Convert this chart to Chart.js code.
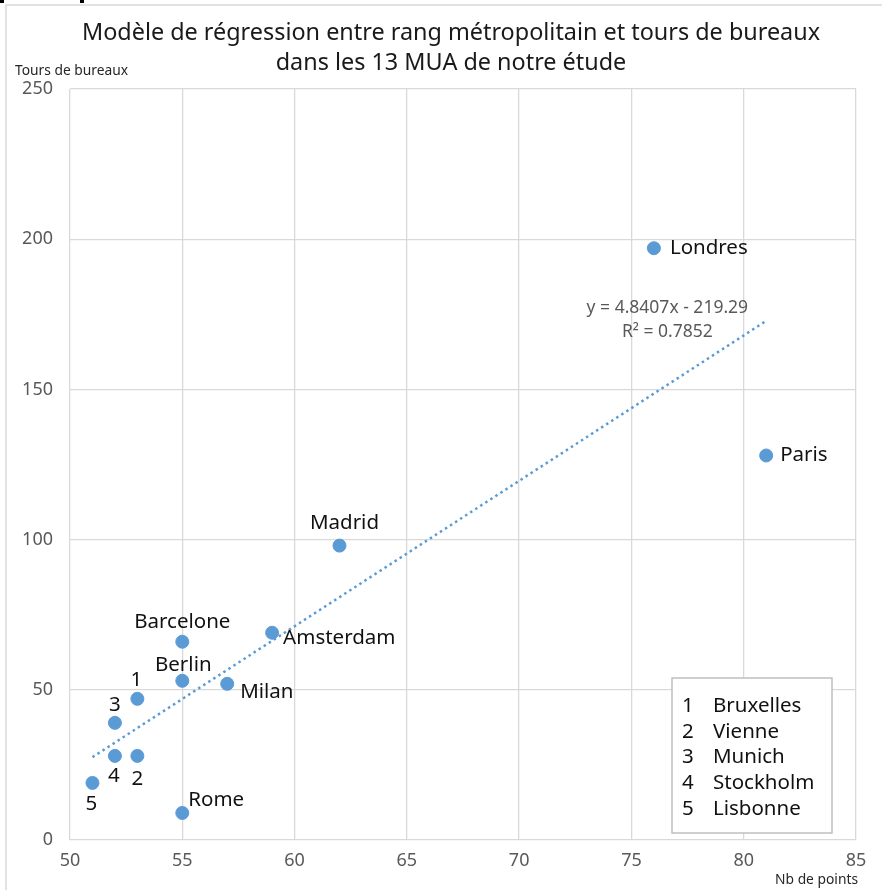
<!DOCTYPE html>
<html>
<head>
<meta charset="utf-8">
<script src="https://cdn.jsdelivr.net/npm/chart.js@4"></script>
<style>
  html, body { margin: 0; padding: 0; background: #fff; }
  canvas { display: block; }
</style>
</head>
<body>
<canvas id="chart" width="882" height="890"></canvas>
<script>
// données
const villes = ['Londres', 'Paris', 'Madrid', 'Amsterdam', 'Barcelone', 'Berlin', 'Milan', '1', '3', '4', '2', '5', 'Rome'];
const nbPoints = [76, 81, 62, 59, 55, 55, 57, 53, 52, 52, 53, 51, 55];
const toursBureaux = [197, 128, 98, 69, 66, 53, 52, 47, 39, 28, 28, 19, 9];
const legendeNums = ['1', '2', '3', '4', '5'];
const legendeVilles = ['Bruxelles', 'Vienne', 'Munich', 'Stockholm', 'Lisbonne'];
const titre = ['Modèle de régression entre rang métropolitain et tours de bureaux', 'dans les 13 MUA de notre étude'];

// régression affichée
const pente = 4.8407;
const ordonnee = -219.29;
const r2 = 0.7852;
const trendX = [51, 81];

const xTicks = [50, 55, 60, 65, 70, 75, 80, 85];
const yTicks = [0, 50, 100, 150, 200, 250];

// placement des étiquettes (dx, dy, alignement)
const placement = {
  'Londres':   [16, 0, 'left'],
  'Paris':     [14, 0, 'left'],
  'Madrid':    [5, -22, 'center'],
  'Amsterdam': [11, 5, 'left'],
  'Barcelone': [0, -20, 'center'],
  'Berlin':    [1, -16, 'center'],
  'Milan':     [13, 8, 'left'],
  '1':         [-1, -19, 'center'],
  '3':         [0, -18, 'center'],
  '4':         [-1, 20, 'center'],
  '2':         [0, 23, 'center'],
  '5':         [-1, 21, 'center'],
  'Rome':      [6, -13, 'left']
};

const bleu = '#5B9BD5';
const police = '"Noto Sans", "Open Sans", sans-serif';

const annotations = {
  id: 'annotations',
  beforeDraw(chart) {
    const ctx = chart.ctx;
    ctx.save();
    ctx.fillStyle = '#fff';
    ctx.fillRect(0, 0, chart.width, chart.height);
    // cadre du graphique
    ctx.strokeStyle = '#d9d9d9';
    ctx.lineWidth = 1.5;
    ctx.beginPath();
    ctx.moveTo(6, chart.height);
    ctx.lineTo(6, 5);
    ctx.lineTo(chart.width, 5);
    ctx.stroke();
    ctx.fillStyle = '#000';
    ctx.fillRect(0, 0, 4, 3);
    ctx.fillRect(80, 0, 4, 3);

    // titre
    ctx.font = '23.4px ' + police;
    ctx.fillStyle = '#1a1a1a';
    ctx.textAlign = 'center';
    ctx.textBaseline = 'middle';
    titre.forEach((t, i) => ctx.fillText(t, 451, 33 + i * 30));
    ctx.restore();
  },
  afterDatasetsDraw(chart) {
    const ctx = chart.ctx;
    const xs = chart.scales.x, ys = chart.scales.y;
    const area = chart.chartArea;
    ctx.save();

    // étiquettes des villes
    ctx.font = '20.5px ' + police;
    ctx.fillStyle = '#111';
    ctx.textBaseline = 'middle';
    villes.forEach((v, i) => {
      const p = placement[v];
      ctx.textAlign = p[2];
      ctx.fillText(v, xs.getPixelForValue(nbPoints[i]) + p[0], ys.getPixelForValue(toursBureaux[i]) + p[1]);
    });

    // équation de la tendance
    ctx.font = '17.5px ' + police;
    ctx.fillStyle = '#595959';
    ctx.textAlign = 'center';
    const ex = xs.getPixelForValue(76.6);
    const ey = ys.getPixelForValue(177);
    ctx.fillText('y = ' + pente + 'x - ' + Math.abs(ordonnee), ex, ey);
    ctx.fillText('R² = ' + r2, ex, ey + 24);

    // titres des axes
    ctx.font = '13.8px ' + police;
    ctx.fillStyle = '#262626';
    ctx.textAlign = 'left';
    ctx.fillText('Tours de bureaux', 15, 71);
    ctx.textAlign = 'right';
    ctx.fillText('Nb de points', 858, 880);

    // encadré légende
    const bx = area.right - 184, by = area.bottom - 162;
    ctx.fillStyle = '#fff';
    ctx.fillRect(bx, by, 160, 155);
    ctx.strokeStyle = '#bfbfbf';
    ctx.lineWidth = 1.5;
    ctx.strokeRect(bx, by, 160, 155);
    ctx.font = '20.5px ' + police;
    ctx.fillStyle = '#111';
    legendeNums.forEach((n, i) => {
      const y = by + 28 + i * 25.8;
      ctx.textAlign = 'left';
      ctx.fillText(n, bx + 10, y);
      ctx.fillText(legendeVilles[i], bx + 41, y);
    });
    ctx.restore();
  }
};

new Chart(document.getElementById('chart'), {
  type: 'scatter',
  data: {
    datasets: [
      {
        label: 'MUA',
        data: nbPoints.map((x, i) => ({ x, y: toursBureaux[i] })),
        backgroundColor: bleu,
        borderColor: bleu,
        pointRadius: 6.5,
        pointHoverRadius: 6.5,
        order: 1
      },
      {
        label: 'Tendance',
        type: 'line',
        data: trendX.map(x => ({ x, y: pente * x + ordonnee })),
        borderColor: bleu,
        borderWidth: 2.5,
        borderDash: [2.5, 3.5],
        pointRadius: 0,
        fill: false,
        order: 2
      }
    ]
  },
  options: {
    responsive: false,
    animation: false,
    events: [],
    layout: { padding: { left: 20, right: 26, top: 89, bottom: 0 } },
    plugins: {
      legend: { display: false },
      tooltip: { enabled: false },
      title: { display: false }
    },
    scales: {
      x: {
        type: 'linear',
        min: 50, max: 85,
        afterBuildTicks: s => { s.ticks = xTicks.map(v => ({ value: v })); },
        afterFit: s => { s.height = 50; },
        ticks: { color: '#595959', font: { family: police, size: 18 }, padding: 10, maxRotation: 0 },
        grid: { color: '#d9d9d9', lineWidth: 1.3, drawTicks: false },
        border: { display: false }
      },
      y: {
        type: 'linear',
        min: 0, max: 250,
        afterBuildTicks: s => { s.ticks = yTicks.map(v => ({ value: v })); },
        afterFit: s => { s.width = 50; },
        ticks: { color: '#595959', font: { family: police, size: 18 }, padding: 17 },
        grid: { color: '#d9d9d9', lineWidth: 1.3, drawTicks: false },
        border: { display: false }
      }
    }
  },
  plugins: [annotations]
});
</script>
</body>
</html>
